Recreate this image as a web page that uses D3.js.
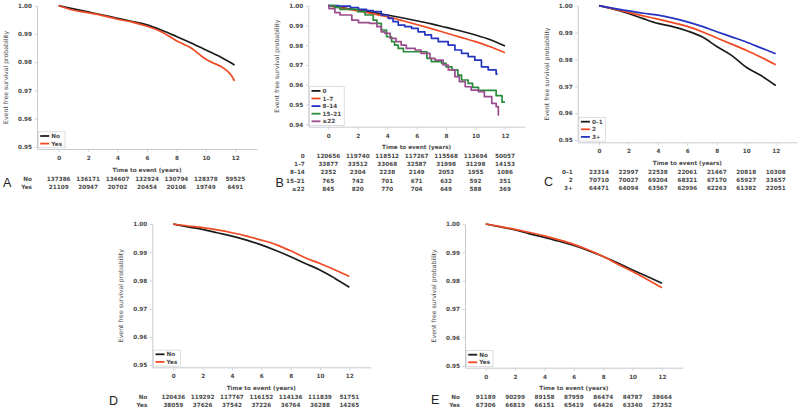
<!DOCTYPE html>
<html>
<head>
<meta charset="utf-8">
<script src="https://cdn.jsdelivr.net/npm/d3@7"></script>
<style>
  html, body { margin: 0; padding: 0; background: #fff; }
  svg { display: block; }
</style>
</head>
<body>
<script>
// ---------------- DATA ----------------
const timeTicks = [0, 2, 4, 6, 8, 10, 12];
const yTicks95 = [0.95, 0.96, 0.97, 0.98, 0.99, 1.00];
const yTicks94 = [0.94, 0.95, 0.96, 0.97, 0.98, 0.99, 1.00];

// Panel A
const aNames = ["No", "Yes"];
const aNo  = [[0,1],[1,0.9989],[2,0.9978],[3,0.9967],[4,0.9955],[5,0.9944],[6,0.9932],[7,0.9913],[8,0.9891],[9,0.9868],[10,0.9843],[11,0.9818],[11.95,0.9790]];
const aYes = [[0,1],[1,0.9984],[2,0.9975],[3,0.9965],[4,0.9952],[5,0.9942],[6,0.9927],[7,0.9907],[8,0.9876],[9,0.9850],[10,0.9810],[10.5,0.9797],[11,0.9785],[11.5,0.9766],[11.7,0.9755],[11.95,0.9733]];
const aRiskNo  = [137386, 136171, 134607, 132924, 130794, 128378, 59525];
const aRiskYes = [21109, 20947, 20702, 20454, 20106, 19749, 6491];

// Panel B
const bNames = ["0", "1\u20137", "8\u201314", "15\u201321", "\u226522"];
const b0   = [[0,1],[1,0.9989],[2,0.9978],[3,0.9966],[4,0.9953],[5,0.9939],[6,0.9924],[7,0.9908],[8,0.9890],[9,0.9872],[10,0.9852],[11,0.9828],[12,0.9796]];
const b1_7 = [[0,1],[1,0.9987],[2,0.9974],[3,0.9960],[4,0.9944],[5,0.9925],[6,0.9905],[7,0.9884],[8,0.9862],[9,0.9840],[10,0.9818],[11,0.9792],[12,0.9762]];
const b8_14 = [[0,1],[0.7,0.9998],[1.5,0.9990],[2.05,0.9981],[2.6,0.9975],[3.05,0.9970],[3.6,0.9953],[4.07,0.9936],[4.4,0.9919],[4.75,0.9902],[5.2,0.9894],[5.66,0.9885],[6.1,0.9868],[6.56,0.9852],[7.0,0.9835],[7.47,0.9818],[8.14,0.9801],[8.6,0.9776],[9.05,0.9759],[9.5,0.9742],[9.95,0.9725],[10.4,0.9691],[10.86,0.9675],[11.4,0.9654],[11.5,0.9654]];
const b15_21 = [[0,1],[0.45,0.9992],[0.8,0.9981],[2.0,0.9970],[2.5,0.9953],[3.05,0.9927],[3.3,0.9911],[3.6,0.9877],[3.96,0.9843],[4.3,0.9818],[4.5,0.9801],[4.75,0.9784],[5.1,0.9767],[6.7,0.9734],[7.0,0.9717],[7.7,0.9708],[8.0,0.9691],[8.4,0.9675],[8.8,0.9649],[9.05,0.9624],[9.5,0.9607],[9.8,0.9587],[10.2,0.9572],[11.4,0.9545],[11.8,0.9512],[12.0,0.9512]];
const b22 = [[0,1],[0.05,0.9985],[0.45,0.9965],[0.8,0.9953],[1.6,0.9927],[2.05,0.9914],[2.8,0.9911],[3.3,0.9894],[3.6,0.9868],[3.85,0.9860],[4.2,0.9835],[4.6,0.9818],[4.95,0.9801],[5.3,0.9784],[5.9,0.9776],[6.3,0.9759],[6.9,0.9734],[7.25,0.9725],[7.8,0.9700],[8.15,0.9675],[8.6,0.9641],[8.9,0.9616],[9.3,0.9590],[9.7,0.9573],[10.2,0.9565],[10.6,0.9540],[11.1,0.9506],[11.4,0.9489],[11.55,0.9447],[11.6,0.9447]];
const bRisk0    = [120656, 119740, 118512, 117267, 115568, 113694, 50057];
const bRisk1_7  = [33877, 33512, 33068, 32587, 31998, 31298, 14153];
const bRisk8_14 = [2352, 2304, 2238, 2149, 2053, 1955, 1086];
const bRisk15_21 = [765, 742, 701, 671, 632, 592, 351];
const bRisk22   = [845, 820, 770, 704, 649, 588, 369];

// Panel C
const cNames = ["0\u20131", "2", "3+"];
const c0_1 = [[0,1],[1,0.9987],[2,0.9971],[3,0.9952],[4,0.9934],[5,0.9922],[6,0.9906],[7,0.9884],[8,0.9848],[9,0.9815],[10,0.9771],[11,0.9740],[12,0.9703]];
const c2   = [[0,1],[1,0.9988],[2,0.9975],[3,0.9962],[4,0.9950],[5,0.9937],[6,0.9923],[7,0.9903],[8,0.9880],[9,0.9857],[10,0.9834],[11,0.9808],[12,0.9780]];
const c3   = [[0,1],[1,0.9990],[2,0.9981],[3,0.9972],[4,0.9965],[5,0.9954],[6,0.9940],[7,0.9923],[8,0.9903],[9,0.9884],[10,0.9865],[11,0.9843],[12,0.9821]];
const cRisk0_1 = [23314, 22997, 22538, 22061, 21467, 20818, 10308];
const cRisk2   = [70710, 70027, 69204, 68321, 67170, 65927, 33657];
const cRisk3   = [64471, 64094, 63567, 62996, 62263, 61382, 22051];

// Panel D
const dNames = ["No", "Yes"];
const dNo  = [[0,1],[1,0.9990],[2,0.9981],[3,0.9969],[4,0.9957],[5,0.9943],[6,0.9926],[7,0.9906],[8,0.9884],[9,0.9860],[10,0.9837],[11,0.9808],[12,0.9776]];
const dYes = [[0,1],[1,0.9993],[2,0.9987],[3,0.9979],[4,0.9969],[5,0.9957],[6,0.9943],[7,0.9927],[8,0.9905],[9,0.9880],[10,0.9860],[11,0.9838],[12,0.9814]];
const dRiskNo  = [120436, 119292, 117767, 116152, 114136, 111839, 51751];
const dRiskYes = [38059, 37626, 37542, 37226, 36764, 36288, 14265];

// Panel E
const eNames = ["No", "Yes"];
const eNo  = [[0,1],[1,0.9990],[2,0.9979],[3,0.9965],[4,0.9953],[5,0.9939],[6,0.9924],[7,0.9906],[8,0.9885],[9,0.9862],[10,0.9838],[11,0.9815],[12,0.9791]];
const eYes = [[0,1],[1,0.9991],[2,0.9981],[3,0.9970],[4,0.9958],[5,0.9944],[6,0.9928],[7,0.9908],[8,0.9885],[9,0.9858],[10,0.9832],[11,0.9804],[12,0.9775]];
const eRiskNo  = [91189, 90299, 89158, 87959, 86474, 84787, 38664];
const eRiskYes = [67306, 66819, 66151, 65419, 64426, 63340, 27352];

// ---------------- STYLE / LAYOUT ----------------
const BLACK = "#1c1c1c", RED = "#f04a24", BLUE = "#2534c0", GREEN = "#2b8a3c", PURPLE = "#9a4c8c";
const AXIS = "#c6cad2", TXT = "#4a4a4a";
const FONT = "'DejaVu Sans', Verdana, sans-serif";

const panels = [
  { letter: "A", xLeft: 37, x0: 58.7, x12: 235.3, xRight: 257, yTop: 5.7, yLowPx: 146.7, yLowVal: 0.95, axisY: 149,
    yTicks: yTicks95, letterX: 3, letterY: 183, rowLabelGap: 5,
    series: [{name: aNames[0], data: aNo, color: BLACK}, {name: aNames[1], data: aYes, color: RED}],
    risk: [[aNames[0], aRiskNo], [aNames[1], aRiskYes]] },
  { letter: "B", xLeft: 308.3, x0: 328.3, x12: 505, xRight: 525, yTop: 5.7, yLowPx: 124.3, yLowVal: 0.94, axisY: 126.7,
    yTicks: yTicks94, letterX: 275.5, letterY: 183, rowLabelGap: 3.5,
    series: [{name: bNames[0], data: b0, color: BLACK}, {name: bNames[1], data: b1_7, color: RED},
             {name: bNames[2], data: b8_14, color: BLUE, step: true}, {name: bNames[3], data: b15_21, color: GREEN, step: true},
             {name: bNames[4], data: b22, color: PURPLE, step: true}],
    risk: [[bNames[0], bRisk0], [bNames[1], bRisk1_7], [bNames[2], bRisk8_14], [bNames[3], bRisk15_21], [bNames[4], bRisk22]] },
  { letter: "C", xLeft: 577.7, x0: 599, x12: 775.7, xRight: 796.7, yTop: 5.7, yLowPx: 140, yLowVal: 0.95, axisY: 142.3,
    yTicks: yTicks95, letterX: 544, letterY: 182, rowLabelGap: 5,
    series: [{name: cNames[0], data: c0_1, color: BLACK}, {name: cNames[1], data: c2, color: RED}, {name: cNames[2], data: c3, color: BLUE}],
    risk: [[cNames[0], cRisk0_1], [cNames[1], cRisk2], [cNames[2], cRisk3]] },
  { letter: "D", xLeft: 152.3, x0: 173.3, x12: 349.3, xRight: 370.7, yTop: 224, yLowPx: 365, yLowVal: 0.95, axisY: 367.3,
    yTicks: yTicks95, letterX: 109, letterY: 401, rowLabelGap: 5,
    series: [{name: dNames[0], data: dNo, color: BLACK}, {name: dNames[1], data: dYes, color: RED}],
    risk: [[dNames[0], dRiskNo], [dNames[1], dRiskYes]] },
  { letter: "E", xLeft: 465, x0: 485.7, x12: 662, xRight: 682.7, yTop: 224, yLowPx: 365.7, yLowVal: 0.95, axisY: 367.7,
    yTicks: yTicks95, letterX: 431, letterY: 400, rowLabelGap: 5,
    series: [{name: eNames[0], data: eNo, color: BLACK}, {name: eNames[1], data: eYes, color: RED}],
    risk: [[eNames[0], eRiskNo], [eNames[1], eRiskYes]] }
];

// ---------------- DRAW ----------------
const svg = d3.select("body").append("svg").attr("width", 800).attr("height", 410)
  .style("font-family", FONT);

panels.forEach(p => {
  const g = svg.append("g");
  const k = (p.x12 - p.x0) / 12;
  const x = d3.scaleLinear()
    .domain([(p.xLeft - p.x0) / k, (p.xRight - p.x0) / k])
    .range([p.xLeft, p.xRight]);
  const ky = (p.yLowPx - p.yTop) / (1 - p.yLowVal);
  const y = d3.scaleLinear()
    .domain([1 - (p.axisY - p.yTop) / ky, 1])
    .range([p.axisY, p.yTop]);

  // y axis
  const ya = g.append("g").attr("transform", `translate(${p.xLeft},0)`)
    .call(d3.axisLeft(y).tickValues(p.yTicks).tickFormat(d3.format(".2f")).tickSize(2.5).tickPadding(2.5).tickSizeOuter(0));
  // x axis
  const xa = g.append("g").attr("transform", `translate(0,${p.axisY})`)
    .call(d3.axisBottom(x).tickValues(timeTicks).tickFormat(d3.format("d")).tickSize(3).tickPadding(4).tickSizeOuter(0));
  [ya, xa].forEach(a => {
    a.selectAll("path.domain").attr("stroke", AXIS).attr("stroke-width", 1);
    a.selectAll(".tick line").attr("stroke", AXIS).attr("stroke-width", 0.8);
    a.selectAll(".tick text").attr("fill", TXT).style("font-size", "5.7px").style("font-weight", "bold").style("font-family", FONT);
  });

  // y label
  const ylx = p.xLeft - 29;
  g.append("text")
    .attr("transform", `translate(${ylx},${(p.yTop + p.axisY) / 2}) rotate(-90)`)
    .attr("text-anchor", "middle")
    .attr("fill", TXT).style("font-size", "6.2px")
    .text("Event free survival probability");

  // x title
  g.append("text")
    .attr("x", x(6)).attr("y", p.axisY + 20.7)
    .attr("text-anchor", "middle").attr("dominant-baseline", "central")
    .attr("fill", TXT).style("font-size", "5.7px").style("font-weight", "bold")
    .text("Time to event (years)");

  // curves
  p.series.forEach(s => {
    const line = d3.line().x(d => x(d[0])).y(d => y(d[1]))
      .curve(s.step ? d3.curveStepAfter : d3.curveMonotoneX);
    g.append("path").datum(s.data)
      .attr("fill", "none").attr("stroke", s.color)
      .attr("stroke-width", 1.7).attr("stroke-linejoin", "round")
      .attr("d", line);
  });

  // legend
  const n = p.series.length, rowH = 7.6;
  const lg = g.append("g");
  const boxTop = p.axisY - 1.2 - (n * rowH + 0.8);
  const bx = p.xLeft + 1.2;
  const rect = lg.append("rect").attr("x", bx).attr("y", boxTop)
    .attr("height", n * rowH + 0.8).attr("fill", "#fff")
    .attr("stroke", "#c8c8c8").attr("stroke-width", 0.6);
  let maxW = 0;
  p.series.forEach((s, i) => {
    const cy = boxTop + 4.2 + i * rowH;
    lg.append("line").attr("x1", bx + 2).attr("x2", bx + 11).attr("y1", cy).attr("y2", cy)
      .attr("stroke", s.color).attr("stroke-width", 1.8);
    const t = lg.append("text").attr("x", bx + 13).attr("y", cy).attr("dominant-baseline", "central")
      .attr("fill", TXT).style("font-size", "5.7px").style("font-weight", "bold").text(s.name);
    maxW = Math.max(maxW, t.node().getComputedTextLength());
  });
  rect.attr("width", 13 + maxW + 3);

  // risk table
  p.risk.forEach((r, i) => {
    const ry = p.axisY + 29.5 + i * 8.1;
    g.append("text").attr("x", p.xLeft - p.rowLabelGap).attr("y", ry)
      .attr("text-anchor", "end").attr("dominant-baseline", "central")
      .attr("fill", TXT).style("font-size", "5.7px").style("font-weight", "bold").text(r[0]);
    g.selectAll(null).data(r[1]).enter().append("text")
      .attr("x", (d, j) => x(timeTicks[j])).attr("y", ry)
      .attr("text-anchor", "middle").attr("dominant-baseline", "central")
      .attr("fill", TXT).style("font-size", "5.7px").style("font-weight", "bold")
      .text(d => d);
  });

  // panel letter
  g.append("text").attr("x", p.letterX).attr("y", p.letterY)
    .attr("dominant-baseline", "central")
    .attr("fill", "#222").style("font-family", "'Liberation Sans', Arial, sans-serif")
    .style("font-size", "12.5px").text(p.letter);
});
</script>
</body>
</html>
